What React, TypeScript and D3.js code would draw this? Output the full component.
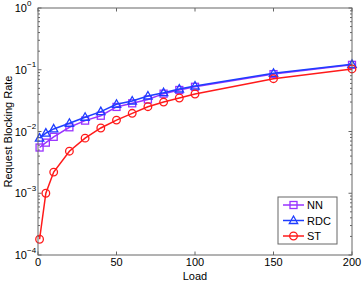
import React from "react";
import * as d3 from "d3";

const loads = [1, 5, 10, 20, 30, 40, 50, 60, 70, 80, 90, 100, 150, 200];
const nnValues = [0.0055, 0.0066, 0.0082, 0.0117, 0.015, 0.018, 0.025, 0.0286, 0.033, 0.041, 0.047, 0.053, 0.085, 0.12];
const rdcValues = [0.0078, 0.0094, 0.011, 0.0136, 0.017, 0.021, 0.0276, 0.0312, 0.0376, 0.0425, 0.0488, 0.0546, 0.0876, 0.1225];
const stValues = [0.00018, 0.001, 0.0022, 0.0048, 0.0078, 0.0114, 0.0153, 0.0197, 0.0252, 0.03, 0.0349, 0.0405, 0.0716, 0.103];
const xTicks = [0, 50, 100, 150, 200];
const yExponents = [0, -1, -2, -3, -4];
const seriesNames = ["NN", "RDC", "ST"];

const W = 362, H = 281;
const M = { left: 38, right: 10, top: 8, bottom: 26 };
const axisColor = "#666";
const font = "Liberation Sans, Arial, sans-serif";

export default function App() {
  const x = d3.scaleLinear().domain([0, 200]).range([M.left, W - M.right]);
  const y = d3.scaleLog().domain([1e-4, 1]).range([H - M.bottom, M.top]);
  const x0 = M.left, x1 = W - M.right, y0 = H - M.bottom, y1 = M.top;

  const series = [
    { name: seriesNames[0], values: nnValues, color: "#9933ff", marker: "square" },
    { name: seriesNames[1], values: rdcValues, color: "#1f3dff", marker: "triangle" },
    { name: seriesNames[2], values: stValues, color: "#ff1a1a", marker: "circle" },
  ];

  const line = d3.line<[number, number]>().x(d => x(d[0])).y(d => y(d[1]));

  const marker = (type: string, cx: number, cy: number, color: string, key: any) => {
    if (type === "square") return <rect key={key} x={cx - 3.5} y={cy - 3.5} width={7} height={7} fill="none" stroke={color} strokeWidth={1.3} />;
    if (type === "triangle") return <path key={key} d={`M${cx},${cy - 4.5}L${cx + 4.2},${cy + 3}L${cx - 4.2},${cy + 3}Z`} fill="none" stroke={color} strokeWidth={1.3} />;
    return <circle key={key} cx={cx} cy={cy} r={3.8} fill="none" stroke={color} strokeWidth={1.3} />;
  };

  const minor: number[] = [];
  for (let e = -4; e < 0; e++) for (let k = 2; k <= 9; k++) minor.push(k * Math.pow(10, e));

  return (
    <svg width={W} height={H} style={{ position: "absolute", left: 0, top: 0, background: "#fff" }} fontFamily={font}>
      <rect x={0} y={0} width={W} height={H} fill="#fff" />
      {xTicks.map(t => (
        <g key={"xt" + t}>
          <line x1={x(t)} x2={x(t)} y1={y0} y2={y0 - 3.5} stroke={axisColor} />
          <line x1={x(t)} x2={x(t)} y1={y1} y2={y1 + 3.5} stroke={axisColor} />
          <text x={x(t)} y={y0 + 11} fontSize={11} textAnchor="middle" fill="#000">{t}</text>
        </g>
      ))}
      {yExponents.map(e => (
        <g key={"yt" + e}>
          <line x1={x0} x2={x0 + 3.5} y1={y(Math.pow(10, e))} y2={y(Math.pow(10, e))} stroke={axisColor} />
          <line x1={x1} x2={x1 - 3.5} y1={y(Math.pow(10, e))} y2={y(Math.pow(10, e))} stroke={axisColor} />
          <text x={x0 - 11} y={y(Math.pow(10, e)) + 4} fontSize={11} textAnchor="end" fill="#000">10</text>
          <text x={x0 - 11} y={y(Math.pow(10, e)) - 2.5} fontSize={8} textAnchor="start" fill="#000">{e === 0 ? "0" : "\u2212" + (-e)}</text>
        </g>
      ))}
      {minor.map((v, i) => (
        <g key={"mn" + i}>
          <line x1={x0} x2={x0 + 2} y1={y(v)} y2={y(v)} stroke={axisColor} />
          <line x1={x1} x2={x1 - 2} y1={y(v)} y2={y(v)} stroke={axisColor} />
        </g>
      ))}
      {series.map(s => (
        <g key={s.name}>
          <path d={line(loads.map((l, i) => [l, s.values[i]] as [number, number])) || ""} fill="none" stroke={s.color} strokeWidth={1.5} />
          {loads.map((l, i) => marker(s.marker, x(l), y(s.values[i]), s.color, i))}
        </g>
      ))}
      <rect x={x0} y={y1} width={x1 - x0} height={y0 - y1} fill="none" stroke={axisColor} strokeWidth={1} />
      <g>
        <rect x={278} y={197} width={59} height={47} fill="#fff" stroke={axisColor} />
        {series.map((s, i) => {
          const ly = 205 + i * 15.5;
          return (
            <g key={"lg" + s.name}>
              <line x1={283} x2={304} y1={ly} y2={ly} stroke={s.color} strokeWidth={1.5} />
              {marker(s.marker, 293.5, ly, s.color, "m")}
              <text x={307} y={ly + 4} fontSize={11} fill="#000">{s.name}</text>
            </g>
          );
        })}
      </g>
      <text x={(x0 + x1) / 2} y={280} fontSize={11} textAnchor="middle" fill="#000">Load</text>
      <text transform={`translate(12,${(y0 + y1) / 2}) rotate(-90)`} fontSize={11} textAnchor="middle" fill="#000">Request Blocking Rate</text>
    </svg>
  );
}
